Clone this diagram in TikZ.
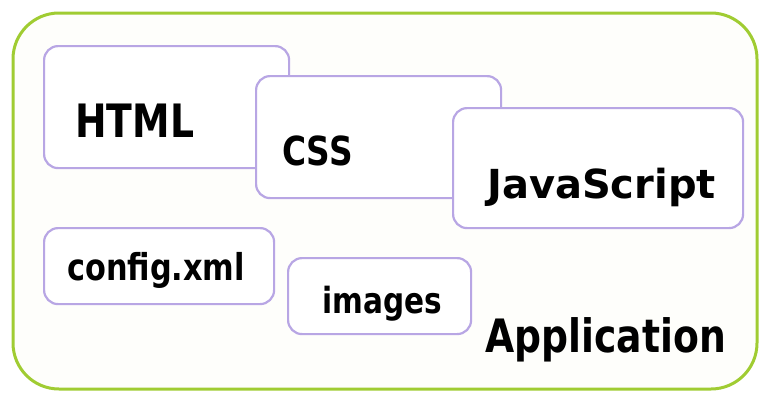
\documentclass[tikz,border=0pt]{standalone}
\usepackage{fontspec}
\setmainfont{DejaVu Sans}[FakeStretch=0.82]
\newfontfamily\widefont{DejaVu Sans}
\usepackage{tikz}
\usetikzlibrary{positioning}
\definecolor{appgreen}{RGB}{160,204,50}
\definecolor{appfill}{RGB}{254,254,251}
\definecolor{partline}{RGB}{184,166,228}
\tikzset{app/.style={draw=appgreen,line width=3pt,fill=appfill,rounded corners=46pt}}
\tikzset{part/.style={draw=partline,line width=2.2pt,fill=white,rounded corners=14pt,anchor=north west,inner sep=0pt}}
\tikzset{word/.style={anchor=base west,inner sep=0pt,font=\bfseries}}
\newcommand{\fs}[1]{\fontsize{#1}{#1}\selectfont}

\begin{document}
\begin{tikzpicture}[x=1pt,y=-1pt]
      \useasboundingbox (0,0) rectangle (763,392);
      \draw[app] (13,13) rectangle (757,389);

      \node[part,minimum width=245pt,minimum height=122pt](html) at (43,45){};
      \node[part,minimum width=245pt,minimum height=122pt](css) at (255,75){};
      \node[part,minimum width=290pt,minimum height=120pt](js) at (452,107){};
      \node[part,minimum width=230pt,minimum height=76pt](config) at (43,227){};
      \node[part,minimum width=183pt,minimum height=76pt](images) at (287,257){};

      \node[word,font=\bfseries\fs{46}](htmltxt) at (75,137){HTML};
      \node[word,font=\bfseries\fs{40}](csstxt) at (282,165){CSS};
      \node[word,font=\widefont\bfseries\fs{40}](jstxt) at (487,198){JavaScript};
      \node[word,font=\bfseries\fs{37}](configtxt) at (67,280){config.xml};
      \node[word,font=\bfseries\fs{36}](imagestxt) at (322,313){images};
      \node[word,font=\bfseries\fs{46}](apptxt) at (485,352){Application};
    \end{tikzpicture}
\end{document}
